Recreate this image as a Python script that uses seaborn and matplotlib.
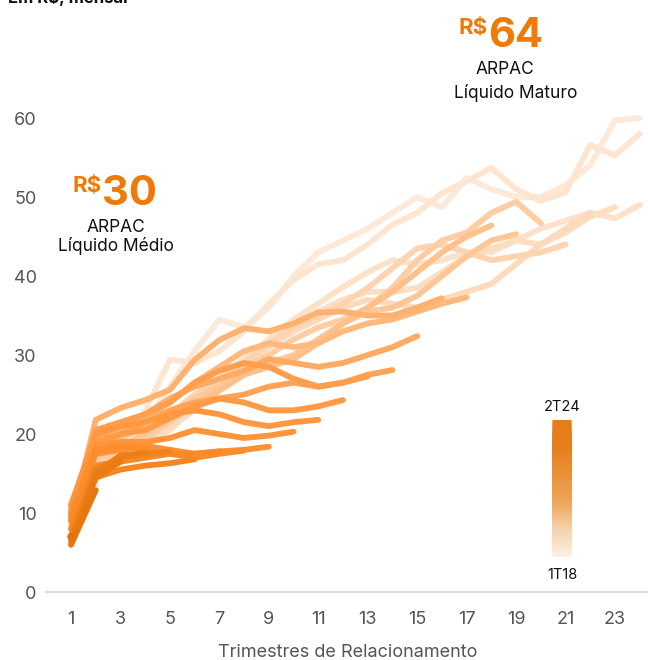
import numpy as np
import pandas as pd
import matplotlib
matplotlib.use("Agg")
import matplotlib.pyplot as plt
from matplotlib.colors import LinearSegmentedColormap
from matplotlib.patches import FancyBboxPatch
import seaborn as sns

# Cohorts (safra) from oldest to newest
cohorts = ["1T18", "2T18", "3T18", "4T18", "1T19", "2T19", "3T19", "4T19",
           "1T20", "2T20", "3T20", "4T20", "1T21", "2T21", "3T21", "4T21",
           "1T22", "2T22", "3T22", "4T22", "1T23", "2T23", "3T23", "4T23",
           "1T24", "2T24"]

# Monthly net ARPAC (R$) per quarter of relationship, one list per cohort
arpac = {
    "1T18": [6.0, 14.0, 17.5, 21.0, 26.0, 30.5, 34.5, 33.5, 36.0, 40.0, 43.0, 44.5,
             46.0, 48.0, 50.0, 48.7, 52.4, 51.0, 50.0, 50.0, 51.5, 54.0, 59.7, 60.0],
    "2T18": [6.5, 15.0, 18.5, 23.0, 29.4, 29.0, 30.5, 33.0, 36.5, 39.5, 41.5, 42.0,
             44.0, 46.5, 48.0, 50.5, 52.0, 53.7, 51.0, 49.5, 50.6, 56.6, 55.3, 58.0],
    "3T18": [7.0, 14.5, 16.5, 19.0, 22.0, 24.5, 27.0, 29.5, 32.0, 34.5, 36.5, 38.6,
             40.5, 42.0, 41.5, 42.0, 43.0, 43.0, 44.5, 46.0, 47.0, 48.0, 47.3, 49.0],
    "4T18": [7.0, 15.0, 17.0, 18.5, 20.5, 23.5, 26.5, 29.0, 31.5, 33.5, 35.5, 37.0,
             38.0, 38.0, 38.5, 40.5, 42.5, 43.5, 44.5, 44.0, 45.5, 47.5, 48.7],
    "1T19": [7.5, 15.5, 17.0, 19.0, 21.0, 23.0, 25.5, 28.5, 31.0, 33.0, 34.5, 36.0,
             37.0, 36.5, 36.0, 37.0, 38.0, 39.0, 41.5, 44.0, 46.0, 48.0],
    "2T19": [7.0, 16.0, 18.0, 20.0, 22.5, 25.0, 27.0, 29.0, 31.5, 33.5, 35.0, 36.5,
             38.5, 41.0, 43.5, 44.0, 43.0, 42.0, 42.5, 43.0, 44.0],
    "3T19": [8.0, 16.5, 18.0, 19.5, 21.5, 24.0, 26.5, 28.5, 30.0, 32.0, 33.5, 34.5,
             36.0, 38.5, 42.0, 44.5, 45.5, 48.0, 49.4, 46.7],
    "4T19": [8.0, 17.0, 18.5, 20.0, 22.0, 24.5, 26.0, 28.0, 29.0, 30.0, 32.0, 34.0,
             35.5, 36.0, 37.5, 40.0, 42.5, 44.5, 45.3],
    "1T20": [8.5, 18.0, 19.5, 21.0, 22.0, 23.5, 25.5, 27.5, 28.5, 29.5, 31.5, 34.0,
             36.0, 38.0, 40.5, 43.0, 45.0, 46.4],
    "2T20": [9.0, 19.0, 20.5, 22.0, 24.0, 26.5, 28.5, 30.5, 31.5, 31.0, 31.5, 33.0,
             34.0, 34.5, 35.5, 36.5, 37.3],
    "3T20": [9.0, 21.8, 23.3, 24.3, 25.6, 29.4, 31.9, 33.4, 33.0, 34.0, 35.4, 35.5,
             35.0, 35.0, 36.0, 37.2],
    "4T20": [9.5, 19.5, 21.0, 22.5, 24.5, 26.0, 27.0, 28.0, 29.5, 29.0, 28.5, 29.0,
             30.0, 31.0, 32.4],
    "1T21": [10.0, 18.5, 20.0, 21.5, 23.0, 24.0, 24.5, 25.0, 26.0, 26.5, 26.0, 26.5,
             27.5, 28.1],
    "2T21": [10.0, 20.5, 21.5, 22.5, 24.0, 26.5, 28.0, 29.0, 28.5, 27.0, 26.0, 26.5, 27.3],
    "3T21": [10.5, 19.0, 20.0, 20.5, 22.0, 23.5, 24.5, 24.0, 23.0, 23.0, 23.5, 24.3],
    "4T21": [11.0, 20.0, 21.0, 21.5, 22.5, 23.0, 22.5, 21.5, 21.0, 21.5, 21.8],
    "1T22": [11.0, 18.5, 19.0, 19.0, 19.5, 20.5, 20.0, 19.5, 19.8, 20.3],
    "2T22": [10.0, 17.5, 18.0, 18.5, 18.0, 17.5, 17.8, 18.0, 18.4],
    "3T22": [9.5, 18.0, 18.5, 18.0, 17.5, 17.0, 17.5, 17.9],
    "4T22": [9.0, 16.0, 16.5, 17.0, 17.5, 17.5, 17.8],
    "1T23": [8.0, 14.5, 15.5, 16.0, 16.3, 16.8],
    "2T23": [7.0, 15.5, 17.0, 17.5, 17.8],
    "3T23": [6.0, 15.0, 17.3, 17.6],
    "4T23": [6.5, 14.5, 16.5],
    "1T24": [6.0, 12.9],
    "2T24": [7.0],
}

x_ticks = list(range(1, 24, 2))
y_ticks = [0, 10, 20, 30, 40, 50, 60]
avg_value, mature_value = 30, 64

rows = [(c, q + 1, v) for c in cohorts for q, v in enumerate(arpac[c])]
df = pd.DataFrame(rows, columns=["safra", "trimestre", "arpac"])

sns.set_theme(style="white")
plt.rcParams["font.family"] = ["Inter", "DejaVu Sans"]

line_cmap = LinearSegmentedColormap.from_list(
    "safras", ["#fde9d7", "#fdd9b9", "#ffbe86", "#ffa050", "#ff9236", "#f3831c", "#e2720c"])
bar_cmap = LinearSegmentedColormap.from_list(
    "barra", ["#fcefe3", "#f6d3ad", "#eda65a", "#e9923a", "#e5801a", "#e47e18"])
palette = {c: line_cmap(i / (len(cohorts) - 1)) for i, c in enumerate(cohorts)}

fig = plt.figure(figsize=(6.48, 6.6), dpi=100)
ax = fig.add_axes([0.0715, 0.103, 0.929, 0.766])

multi = df[df["safra"].map(lambda s: len(arpac[s]) > 1)]
sns.lineplot(data=multi, x="trimestre", y="arpac", hue="safra",
             hue_order=[c for c in cohorts if len(arpac[c]) > 1],
             palette=palette, estimator=None, sort=False, legend=False,
             linewidth=4.2, solid_capstyle="round", solid_joinstyle="round",
             ax=ax, clip_on=False)
single = df[df["safra"].map(lambda s: len(arpac[s]) == 1)]
sns.scatterplot(data=single, x="trimestre", y="arpac", color=palette["2T24"],
                s=30, edgecolor="none", legend=False, ax=ax, zorder=3)

ax.set_xlim(0, 24.35)
ax.set_ylim(0, 64)
ax.set_xticks(x_ticks)
ax.set_yticks(y_ticks)
ax.tick_params(axis="x", length=0, pad=14, labelsize=13, labelcolor="#555555")
ax.tick_params(axis="y", length=0, pad=7, labelsize=13, labelcolor="#555555")
ax.set_xlabel("Trimestres de Relacionamento", fontsize=13, color="#555555", labelpad=11)
ax.set_ylabel("")
for side in ["top", "right", "left"]:
    ax.spines[side].set_visible(False)
ax.spines["bottom"].set_color("#dcdcdc")
ax.spines["bottom"].set_linewidth(1.6)
ax.grid(False)

orange = "#ef7a06"
# Unit label
fig.text(0.013, 1 - 3 / 660, "Em R$, mensal", fontsize=12, fontweight="bold",
         color="#111111", ha="left", va="baseline")

def px(x, y):
    return x / 648, 1 - y / 660

# Average net ARPAC callout
fig.text(*px(102, 192), "R$", fontsize=16, fontweight="bold", color=orange,
         ha="right", va="baseline")
fig.text(*px(102, 205), f"{avg_value}", fontsize=30, fontweight="bold", color=orange,
         ha="left", va="baseline")
fig.text(*px(116, 228), "ARPAC", fontsize=12.5, color="#111111", ha="center", va="center")
fig.text(*px(116, 246), "Líquido Médio", fontsize=12.5, color="#111111", ha="center", va="center")

# Mature net ARPAC callout
fig.text(*px(488, 34), "R$", fontsize=16, fontweight="bold", color=orange,
         ha="right", va="baseline")
fig.text(*px(488, 47), f"{mature_value}", fontsize=30, fontweight="bold", color=orange,
         ha="left", va="baseline")
fig.text(*px(505, 69), "ARPAC", fontsize=12.5, color="#111111", ha="center", va="center")
fig.text(*px(516, 93), "Líquido Maturo", fontsize=12.5, color="#111111", ha="center", va="center")

# Cohort colour scale
cax = fig.add_axes([552 / 648, 1 - 557 / 660, 20 / 648, 137 / 660])
grad = np.linspace(0, 1, 256).reshape(-1, 1)
img = cax.imshow(grad, aspect="auto", cmap=bar_cmap, origin="lower",
                 extent=(0, 1, 0, 1))
rounded = FancyBboxPatch((0, 0), 1, 1, boxstyle="round,pad=0,rounding_size=0.03",
                         transform=cax.transAxes, facecolor="none", edgecolor="none",
                         mutation_aspect=6.85)
cax.add_patch(rounded)
img.set_clip_path(rounded)
cax.set_axis_off()
fig.text(*px(562, 407), cohorts[-1], fontsize=10.5, color="#111111", ha="center", va="center")
fig.text(*px(562, 575), cohorts[0], fontsize=10.5, color="#111111", ha="center", va="center")

fig.savefig("out.png", dpi=100, facecolor="white")
